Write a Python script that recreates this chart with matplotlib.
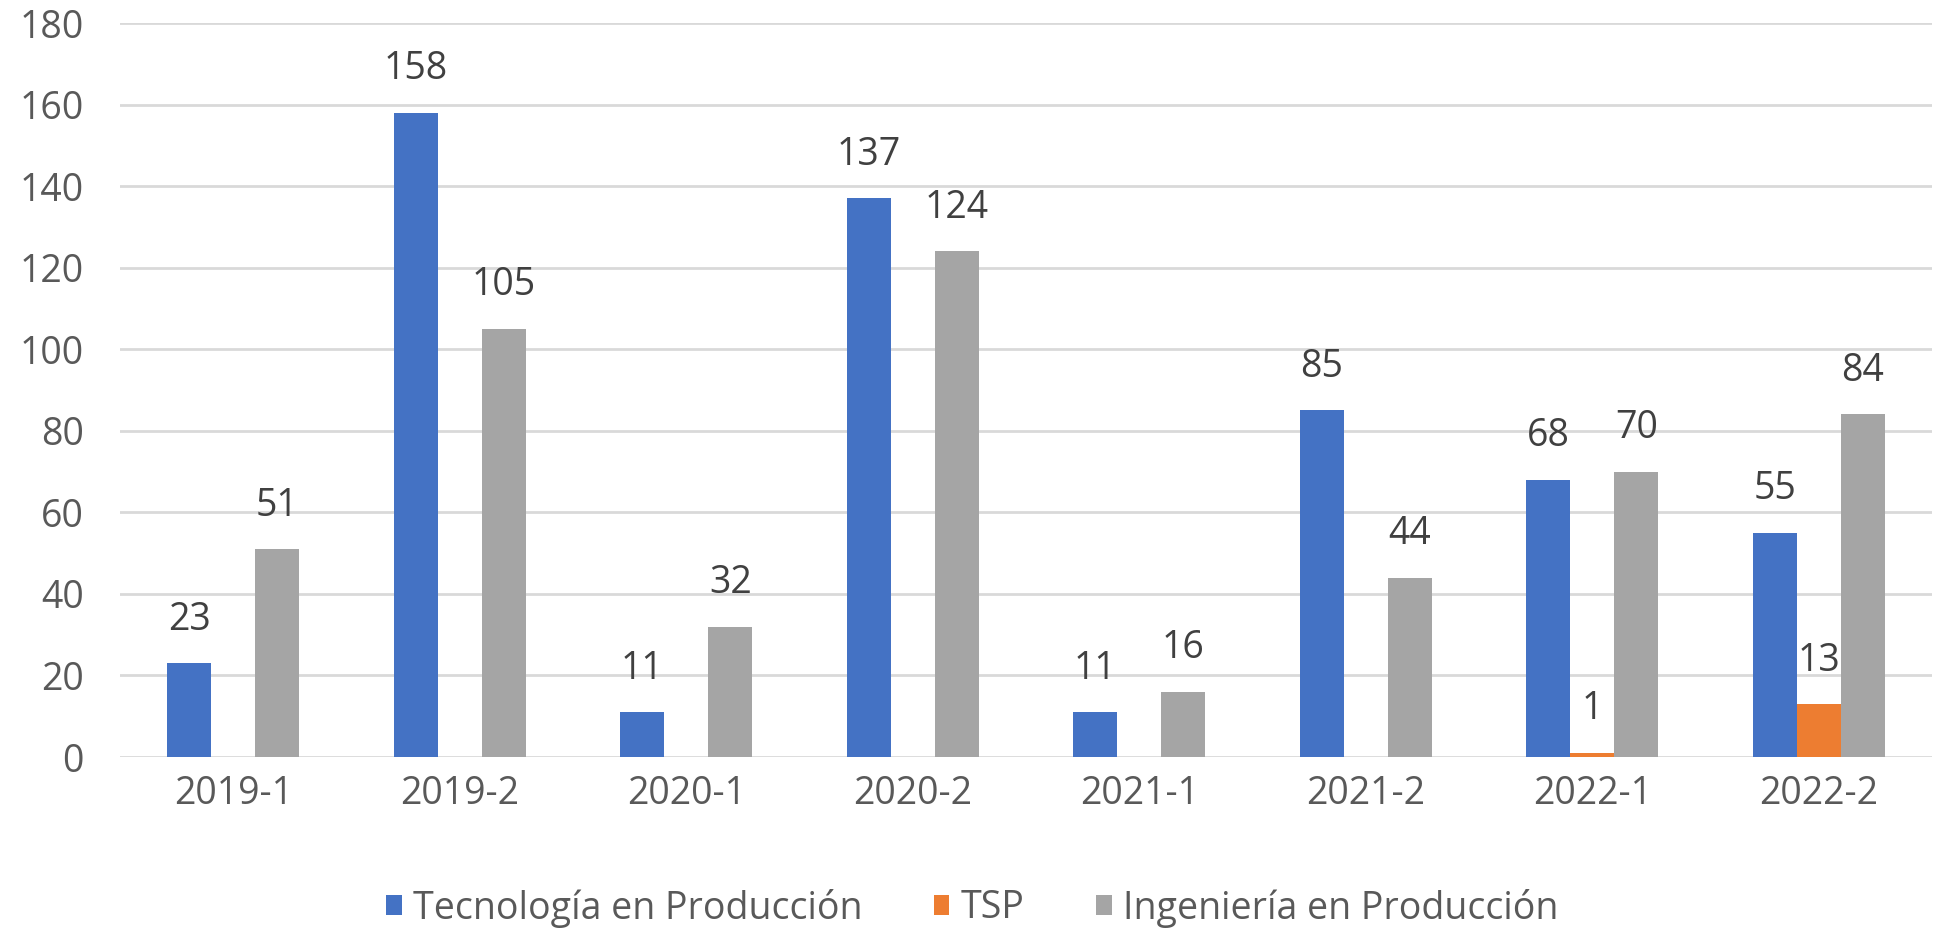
import numpy as np
import matplotlib.pyplot as plt

plt.rcParams['font.family'] = ['Open Sans', 'DejaVu Sans']

periods = ['2019-1', '2019-2', '2020-1', '2020-2', '2021-1', '2021-2', '2022-1', '2022-2']
tecnologia = [23, 158, 11, 137, 11, 85, 68, 55]
tsp = [np.nan, np.nan, np.nan, np.nan, np.nan, np.nan, 1, 13]
ingenieria = [51, 105, 32, 124, 16, 44, 70, 84]

series = [
    ('Tecnología en Producción', tecnologia, '#4472C4'),
    ('TSP', tsp, '#ED7D31'),
    ('Ingeniería en Producción', ingenieria, '#A5A5A5'),
]

fig = plt.figure(figsize=(19.44, 9.33), dpi=100)
ax = fig.add_axes([120 / 1944, 1 - 757 / 933, (1932 - 120) / 1944, (757 - 23) / 933])

x = np.arange(len(periods))
width = 0.194
for i, (name, vals, color) in enumerate(series):
    pos = x + (i - 1) * width
    ax.bar(pos, vals, width, color=color, label=name, zorder=3)
    # etiquetas de datos sobre cada barra
    for p, v in zip(pos, vals):
        if not np.isnan(v):
            ax.text(p, v + 6, f'{v:g}', ha='center', va='bottom',
                    fontsize=27, color='#404040', zorder=4)

ax.set_xlim(-0.5, len(periods) - 0.5)
ax.set_ylim(0, 180)
ax.set_yticks(range(0, 181, 20))
ax.set_xticks(x)
ax.set_xticklabels(periods)
ax.grid(axis='y', color='#D9D9D9', linewidth=2, zorder=0)
for s in ax.spines.values():
    s.set_visible(False)
ax.tick_params(axis='both', length=0, labelsize=27, colors='#595959')
ax.tick_params(axis='x', pad=13)
ax.tick_params(axis='y', pad=26)

leg = fig.legend(loc='center', bbox_to_anchor=(0.5, 1 - 908 / 933), ncol=3,
                 frameon=False, fontsize=27, handlelength=0.42, handleheight=0.42,
                 handletextpad=0.3, columnspacing=1.9)
for t in leg.get_texts():
    t.set_color('#595959')

fig.savefig('out.png', dpi=100)
